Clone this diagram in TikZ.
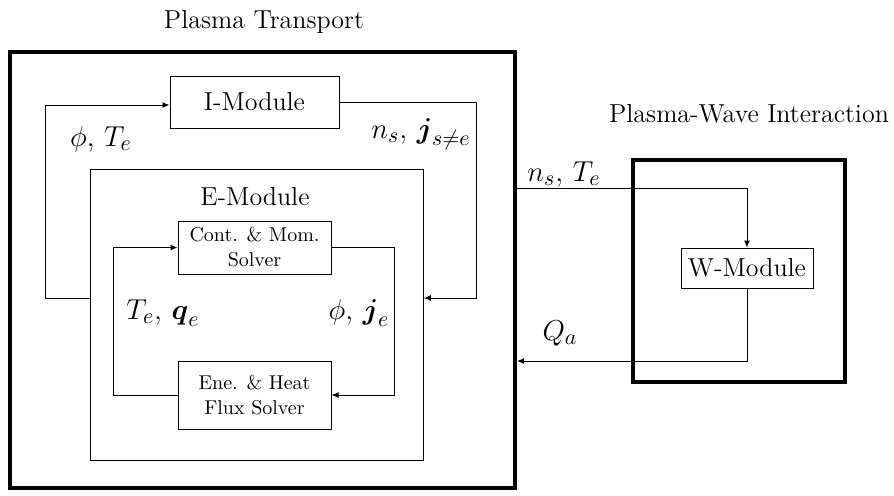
\documentclass[tikz,border=0pt]{standalone}
\usepackage{amsmath}
\usepackage{tikz}
\usetikzlibrary{arrows.meta}

\begin{document}
\begin{tikzpicture}[x=0.5pt,y=-0.5pt,
        every node/.style={font=\fontsize{13}{15}\selectfont},
        frame/.style={draw,line width=2pt,inner sep=0pt},
        module/.style={draw,line width=0.5pt,inner sep=0pt},
        solver/.style={module,align=center,font=\fontsize{10}{12.5}\selectfont,minimum width=76.5pt},
        lbl/.style={font=\fontsize{15.5}{18}\selectfont},
        conn/.style={line width=0.5pt,-{Latex[length=3.5pt,width=3pt]}}]
            \useasboundingbox (0,0) rectangle (894,495);
            \node[frame,minimum width=252.5pt,minimum height=218.25pt] (pt) at (262.5,269.75) {};
            \node (pttitle) at (264,22) {Plasma Transport};
            \node[module,minimum width=84.5pt,minimum height=26pt] (imod) at (254.5,102) {I-Module};
            \node[module,minimum width=166.3pt,minimum height=145.5pt] (emod) at (257,314.5) {};
            \node (emodtitle) at (255,197) {E-Module};
            \node[solver,minimum height=26.5pt] (cont) at (254.5,247.5) {Cont. \& Mom.\\Solver};
            \node[solver,minimum height=34pt] (ene) at (254.5,395) {Ene. \& Heat\\Flux Solver};
            \node[frame,minimum width=106pt,minimum height=111pt] (pwi) at (739,271) {};
            \node (pwititle) at (749,114) {Plasma-Wave Interaction};
            \node[module,minimum width=66pt,minimum height=20pt] (wmod) at (747,268) {W-Module};
            \coordinate (ileft) at (45,105);
            \coordinate (iright) at (476,298);
            \coordinate (cleft) at (113,0);
            \coordinate (cright) at (394,0);
            \coordinate (wtop) at (747,188);
            \coordinate (wbot) at (747,361);
            \draw[conn] (emod.west |- iright) -| (ileft) -- (imod.west |- ileft);
            \draw[conn] (imod.east) -| (iright) -- (emod.east |- iright);
            \draw[conn] (ene.west) -| (cleft |- cont.west) -- (cont.west);
            \draw[conn] (cont.east) -| (cright |- ene.east) -- (ene.east);
            \draw[conn] (pt.east |- wtop) -- (wtop) -- (wmod.north);
            \draw[conn] (wmod.south) -- (wbot) -- (pt.east |- wbot);
            \node[lbl] (phite) at (101,139) {$\phi,\,T_e$};
            \node[lbl] (nsjs) at (421,134) {$n_s,\,\boldsymbol{j}_{s\neq e}$};
            \node[lbl] (teqe) at (163,313) {$T_e,\,\boldsymbol{q}_e$};
            \node[lbl] (phije) at (359,313) {$\phi,\,\boldsymbol{j}_e$};
            \node[lbl] (nste) at (564,174) {$n_s,\,T_e$};
            \node[lbl] (qa) at (560,333) {$Q_a$};
        \end{tikzpicture}
\end{document}
